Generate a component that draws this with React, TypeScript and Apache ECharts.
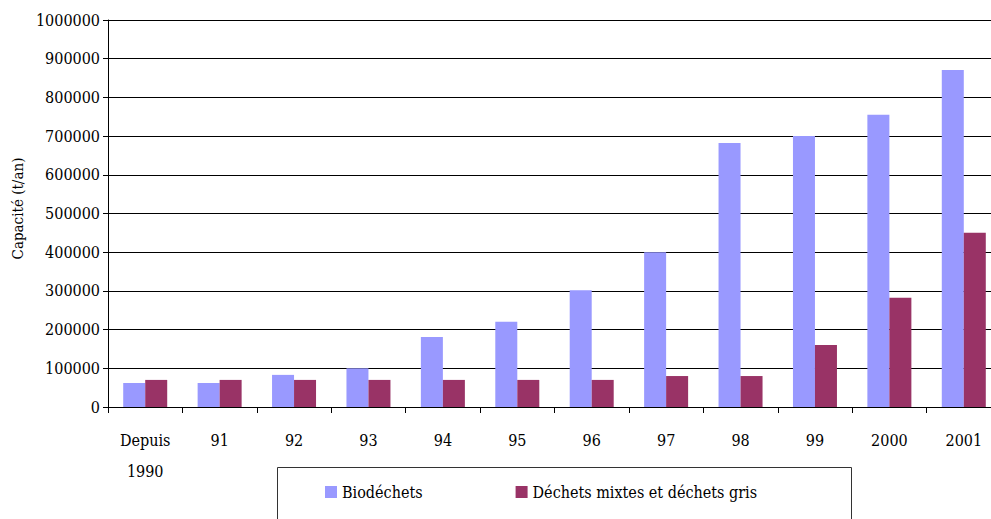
import React, { useEffect, useRef } from "react";
import * as echarts from "echarts";

const categories = ["Depuis\n1990", "91", "92", "93", "94", "95", "96", "97", "98", "99", "2000", "2001"];
const seriesNames = ["Biodéchets", "Déchets mixtes et déchets gris"];
const biodechets = [62000, 62000, 83000, 100000, 181000, 220000, 302000, 400000, 682000, 700000, 755000, 871000];
const dechetsMixtes = [70000, 70000, 70000, 70000, 70000, 70000, 70000, 80000, 80000, 160000, 282000, 450000];
const yAxisName = "Capacité (t/an)";

const FONT = "DejaVu Serif Condensed";

export default function App() {
  const ref = useRef<HTMLDivElement>(null);
  useEffect(() => {
    if (!ref.current) return;
    const chart = echarts.init(ref.current, null, { renderer: "svg" });
    chart.setOption({
      animation: false,
      backgroundColor: "#ffffff",
      grid: { left: 108, top: 20, width: 893, height: 387, outerBoundsMode: "none", containLabel: false },
      graphic: [
        {
          type: "rect",
          left: 277,
          top: 467,
          shape: { width: 574, height: 60 },
          style: { fill: "#fff", stroke: "#333", lineWidth: 1 },
          z: 0,
        },
      ],
      legend: {
        left: 325,
        top: 484,
        padding: 0,
        itemWidth: 12,
        itemHeight: 12,
        itemGap: 93,
        icon: "rect",
        textStyle: { fontFamily: FONT, fontSize: 16, color: "#000" },
        z: 10,
      },
      xAxis: {
        type: "category",
        data: categories,
        axisLine: { show: true, lineStyle: { color: "#000", width: 1 } },
        axisTick: { show: true, length: 6, lineStyle: { color: "#000" } },
        axisLabel: { fontFamily: FONT, fontSize: 16, color: "#000", margin: 18, lineHeight: 31, interval: 0 },
        splitLine: { show: false },
      },
      yAxis: {
        type: "value",
        min: 0,
        max: 1000000,
        interval: 100000,
        name: yAxisName,
        nameLocation: "middle",
        nameGap: 74,
        nameRotate: 90,
        nameTextStyle: { fontFamily: FONT, fontSize: 15, color: "#000", padding: [0, 0, 0, 10] },
        axisLine: { show: true, lineStyle: { color: "#000", width: 1 } },
        axisTick: { show: true, length: 5, lineStyle: { color: "#000" } },
        axisLabel: {
          fontFamily: FONT,
          fontSize: 16,
          color: "#000",
          margin: 8,
          formatter: (v: number) => String(v),
        },
        splitLine: { show: true, lineStyle: { color: "#000", width: 1 } },
      },
      series: [
        {
          name: seriesNames[0],
          type: "bar",
          data: biodechets,
          barWidth: 22,
          barGap: "0%",
          itemStyle: { color: "#9999FF" },
        },
        {
          name: seriesNames[1],
          type: "bar",
          data: dechetsMixtes,
          barWidth: 22,
          barGap: "0%",
          itemStyle: { color: "#993366" },
        },
      ],
    });
    return () => chart.dispose();
  }, []);
  return <div ref={ref} style={{ position: "fixed", left: 0, top: 0, width: 991, height: 519 }} />;
}
